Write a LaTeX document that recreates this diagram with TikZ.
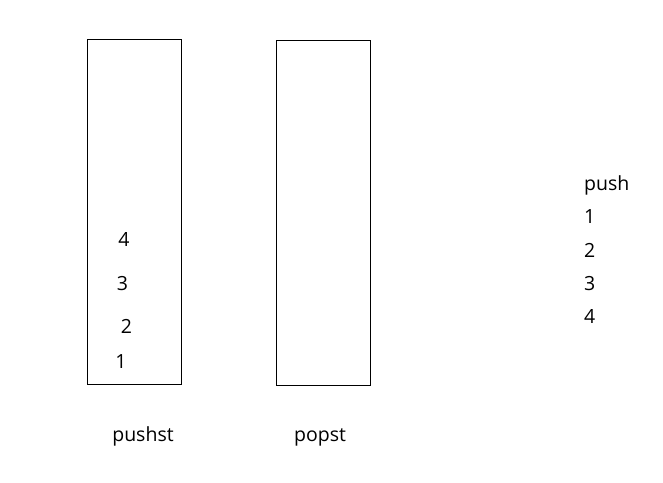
\documentclass[tikz,border=0pt]{standalone}
\usepackage{fontspec}
\setmainfont{Open Sans}
\usepackage{tikz}

\begin{document}
\begin{tikzpicture}[x=1pt,y=-1pt,
  every node/.style={font=\fontsize{19.5}{22}\selectfont,inner sep=0pt},
  stackbox/.style={draw,thin,minimum width=94pt,minimum height=345pt}]
  \useasboundingbox (0,0) rectangle (663,482);
  \node[stackbox] (pushbox) at (134,211.5) {};
  \node[stackbox] (popbox) at (323.5,212.5) {};
  \node[anchor=base] (p1) at (121,368) {1};
  \node[anchor=base] (p2) at (126.5,333) {2};
  \node[anchor=base] (p3) at (122.5,290) {3};
  \node[anchor=base] (p4) at (124,246) {4};
  \node[anchor=base] (pushst) at (143,441) {pushst};
  \node[anchor=base] (popst) at (320,441) {popst};
  \node[anchor=base west] (push) at (584,190) {push};
  \node[anchor=base west] (q1) at (584,223) {1};
  \node[anchor=base west] (q2) at (584,257) {2};
  \node[anchor=base west] (q3) at (584,290) {3};
  \node[anchor=base west] (q4) at (584,323) {4};
\end{tikzpicture}
\end{document}
